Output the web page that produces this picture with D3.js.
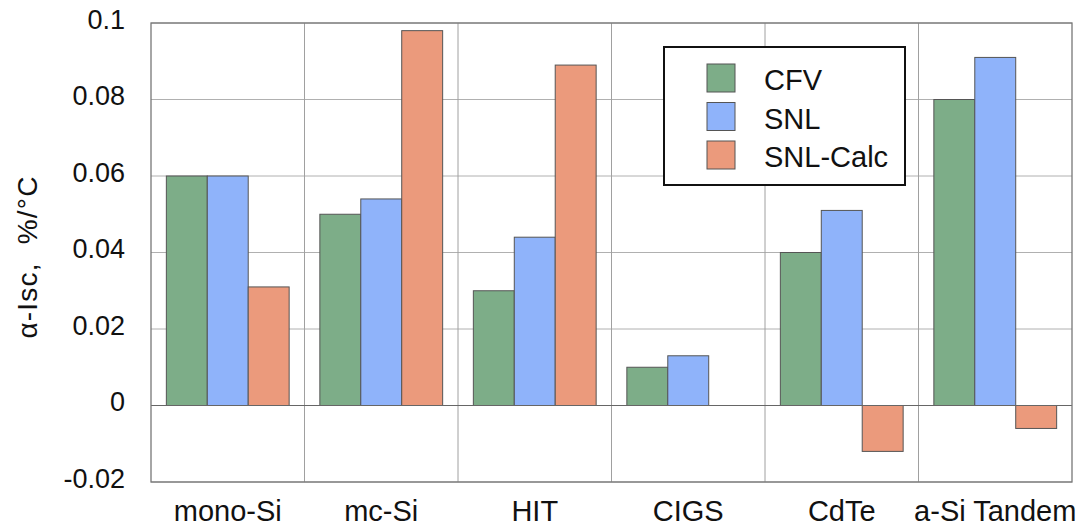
<!DOCTYPE html>
<html>
<head>
<meta charset="utf-8">
<script src="https://cdn.jsdelivr.net/npm/d3@7"></script>
<style>
  html, body { margin: 0; padding: 0; background: #fff; }
  svg { display: block; }
  text { font-family: "Liberation Sans", Arial, sans-serif; fill: #111; }
</style>
</head>
<body>
<svg id="chart" width="1086" height="527"></svg>
<script>
const categories = ["mono-Si", "mc-Si", "HIT", "CIGS", "CdTe", "a-Si Tandem"];
const seriesNames = ["CFV", "SNL", "SNL-Calc"];
const cfv     = [0.060, 0.050, 0.030, 0.010, 0.040, 0.080];
const snl     = [0.060, 0.054, 0.044, 0.013, 0.051, 0.091];
const snlCalc = [0.031, 0.098, 0.089, null, -0.012, -0.006];
const yTicks = [-0.02, 0, 0.02, 0.04, 0.06, 0.08, 0.1];
const yTickLabels = ["-0.02", "0", "0.02", "0.04", "0.06", "0.08", "0.1"];
const colors = ["#7dad88", "#8fb3fa", "#eb9a7c"];
const yLabel = "\u03B1-Isc,  %/\u00B0C";

const seriesValues = [cfv, snl, snlCalc];

const svg = d3.select("#chart");
const x0 = 151, x1 = 1072, yTop = 23, yBot = 482;

const x = d3.scaleBand().domain(categories).range([x0, x1]).padding(0);
const xs = d3.scaleBand().domain(seriesNames)
  .range([x.bandwidth() * 0.1, x.bandwidth() * 0.9]).padding(0);
const y = d3.scaleLinear().domain([-0.02, 0.1]).range([yBot, yTop]);

// horizontal grid lines
svg.append("g").selectAll("line").data(yTicks.filter(t => t !== 0)).join("line")
  .attr("x1", x0).attr("x2", x1)
  .attr("y1", d => y(d)).attr("y2", d => y(d))
  .attr("stroke", "#b0b0b0").attr("stroke-width", 1);

// vertical category separators
svg.append("g").selectAll("line").data(categories.slice(1)).join("line")
  .attr("x1", d => x(d)).attr("x2", d => x(d))
  .attr("y1", yTop).attr("y2", yBot)
  .attr("stroke", "#a0a0a0").attr("stroke-width", 1);

// bars
const rows = [];
categories.forEach((c, i) => {
  seriesNames.forEach((s, j) => {
    const v = seriesValues[j][i];
    if (v !== null && v !== undefined) rows.push({c, s, v, j});
  });
});
svg.append("g").selectAll("rect").data(rows).join("rect")
  .attr("x", d => x(d.c) + xs(d.s))
  .attr("width", xs.bandwidth())
  .attr("y", d => Math.min(y(d.v), y(0)))
  .attr("height", d => Math.abs(y(d.v) - y(0)))
  .attr("fill", d => colors[d.j])
  .attr("stroke", "#555")
  .attr("stroke-width", 1);

// zero line
svg.append("line")
  .attr("x1", x0).attr("x2", x1).attr("y1", y(0)).attr("y2", y(0))
  .attr("stroke", "#666").attr("stroke-width", 1.2);

// frame
svg.append("rect")
  .attr("x", x0).attr("y", yTop).attr("width", x1 - x0).attr("height", yBot - yTop)
  .attr("fill", "none").attr("stroke", "#777").attr("stroke-width", 1.3);

// y axis tick labels
const yAxis = d3.axisLeft(y).tickValues(yTicks)
  .tickFormat((d, i) => yTickLabels[i]).tickSize(0).tickPadding(26);
const gy = svg.append("g").attr("transform", `translate(${x0},0)`).call(yAxis);
gy.select(".domain").remove();
gy.selectAll("text")
  .attr("font-family", "Liberation Sans, Arial, sans-serif")
  .attr("font-size", 27).attr("fill", "#111")
  .attr("dy", "0.2em");

// x axis labels
const xAxis = d3.axisBottom(x).tickSize(0).tickPadding(18);
const gx = svg.append("g").attr("transform", `translate(0,${yBot})`).call(xAxis);
gx.select(".domain").remove();
gx.selectAll("text")
  .attr("font-family", "Liberation Sans, Arial, sans-serif")
  .attr("font-size", 29).attr("fill", "#111")
  .attr("dy", "0.71em");

// y label
svg.append("text")
  .attr("transform", "translate(37,257) rotate(-90)")
  .attr("text-anchor", "middle")
  .attr("font-size", 28)
  .attr("letter-spacing", 1.2)
  .style("white-space", "pre")
  .text(yLabel);

// legend
const lg = svg.append("g");
lg.append("rect").attr("x", 664).attr("y", 47).attr("width", 241).attr("height", 138)
  .attr("fill", "#fff").attr("stroke", "#111").attr("stroke-width", 2);
seriesNames.forEach((s, j) => {
  const cy = 78 + j * 38.5;
  lg.append("rect").attr("x", 707).attr("y", cy - 14).attr("width", 28).attr("height", 28)
    .attr("fill", colors[j]).attr("stroke", "#555").attr("stroke-width", 1);
  lg.append("text").attr("x", 764).attr("y", cy + 12)
    .attr("font-size", 29).text(s);
});
</script>
</body>
</html>
